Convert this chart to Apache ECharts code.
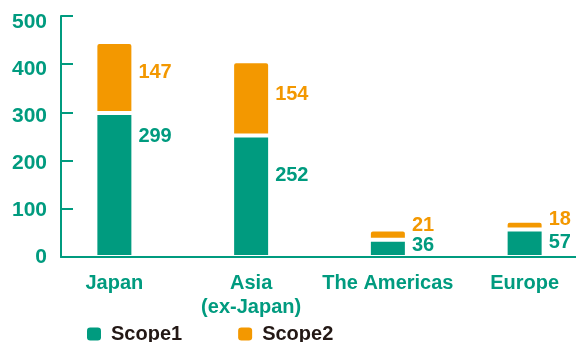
<!DOCTYPE html>
<html>
<head>
<meta charset="utf-8">
<script src="https://cdn.jsdelivr.net/npm/echarts@6/dist/echarts.min.js"></script>
<style>
  html, body { margin: 0; padding: 0; background: #fff; }
  #chart { width: 576px; height: 342px; }
</style>
</head>
<body>
<div id="chart"></div>
<script>
const categories = ["Japan", "Asia\n(ex-Japan)", "The Americas", "Europe"];
const scope1 = [299, 252, 36, 57];
const scope2 = [147, 154, 21, 18];
const yTicks = [0, 100, 200, 300, 400, 500];

const green = "#009b7f";
const orange = "#f39800";
const font = "Liberation Sans, Arial, sans-serif";

// label nudges (px) so numbers sit where the original puts them
const shift1 = [-48, -21, -3, -1];
const shift2 = [-5, -4, -9, -6];

const chart = echarts.init(document.getElementById("chart"));

chart.setOption({
  animation: false,
  legend: {
    left: 87,
    top: 324,
    padding: 0,
    itemWidth: 14,
    itemHeight: 13,
    itemGap: 56,
    icon: "roundRect",
    itemStyle: { borderWidth: 0 },
    textStyle: {
      color: "#231815",
      fontFamily: font,
      fontWeight: "bold",
      fontSize: 20,
      lineHeight: 20,
      padding: [0, 0, 0, 5]
    },
    data: ["Scope1", "Scope2"]
  },
  grid: [
    // bars
    { left: 46, right: -17, top: 16, bottom: 85, outerBoundsMode: "none" },
    // axis lines + ticks
    { left: 61, right: 0, top: 16, bottom: 85, outerBoundsMode: "none" },
    // y labels
    { left: 61, right: 0, top: 22, bottom: 85, outerBoundsMode: "none" }
  ],
  xAxis: [
    {
      type: "category",
      gridIndex: 0,
      data: categories,
      axisLine: { show: false },
      axisTick: { show: false },
      axisLabel: {
        interval: 0,
        margin: 14,
        color: green,
        fontFamily: font,
        fontWeight: "bold",
        fontSize: 20,
        lineHeight: 24
      }
    },
    {
      type: "category",
      gridIndex: 1,
      z: 5,
      data: [""],
      axisLine: { show: true, lineStyle: { color: green, width: 2 } },
      axisTick: { show: false },
      axisLabel: { show: false }
    },
    {
      type: "category",
      gridIndex: 2,
      data: [""],
      show: false
    }
  ],
  yAxis: [
    { type: "value", gridIndex: 0, min: 0, max: 500, interval: 100, show: false },
    {
      type: "value",
      gridIndex: 1,
      z: 5,
      min: 0,
      max: 500,
      interval: 100,
      axisLine: { show: true, lineStyle: { color: green, width: 2 } },
      axisTick: { show: true, inside: true, length: 12, lineStyle: { color: green, width: 2 } },
      axisLabel: { show: false },
      splitLine: { show: false }
    },
    {
      type: "value",
      gridIndex: 2,
      min: yTicks[0],
      max: yTicks[yTicks.length - 1],
      interval: 100,
      axisLine: { show: false },
      axisTick: { show: false },
      splitLine: { show: false },
      axisLabel: {
        margin: 14,
        color: green,
        fontFamily: font,
        fontWeight: "bold",
        fontSize: 21
      }
    }
  ],
  series: [
    {
      name: "Scope1",
      type: "bar",
      stack: "total",
      barWidth: 38,
      itemStyle: { color: green, borderColor: "#fff", borderWidth: 2 },
      data: scope1.map((v, i) => ({
        value: v,
        label: { offset: [0, shift1[i]] }
      })),
      label: {
        show: true,
        position: "right",
        distance: 5,
        color: green,
        fontFamily: font,
        fontWeight: "bold",
        fontSize: 20
      }
    },
    {
      name: "Scope2",
      type: "bar",
      stack: "total",
      barWidth: 38,
      itemStyle: { color: orange, borderColor: "#fff", borderWidth: 2, borderRadius: [3, 3, 0, 0] },
      data: scope2.map((v, i) => ({
        value: v,
        label: { offset: [0, shift2[i]] }
      })),
      label: {
        show: true,
        position: "right",
        distance: 5,
        color: orange,
        fontFamily: font,
        fontWeight: "bold",
        fontSize: 20
      }
    }
  ]
});
</script>
</body>
</html>
